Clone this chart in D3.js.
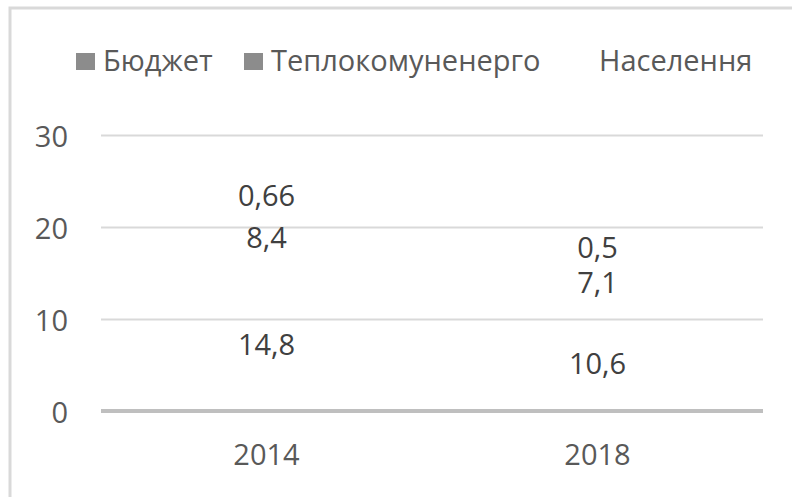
<!DOCTYPE html>
<html>
<head>
<meta charset="utf-8">
<script src="https://cdn.jsdelivr.net/npm/d3@7"></script>
<style>
  body { margin: 0; background: #fff; }
  svg { display: block; font-family: "Open Sans", sans-serif; }
</style>
</head>
<body>
<svg width="792" height="497"></svg>
<script>
// Data
let years = ['2014', '2018']
let series = ['Бюджет', 'Теплокомуненерго', 'Населення']
let budget = [14.8, 10.6]
let teplo = [8.4, 7.1]
let people = [0.66, 0.5]
let yTicks = [0, 10, 20, 30]
let swatchColors = ['#8c8c8c', '#8c8c8c', '#ffffff']

let rows = years.map((y, i) => ({ year: y, 'Бюджет': budget[i], 'Теплокомуненерго': teplo[i], 'Населення': people[i] }))
let stacked = d3.stack().keys(series)(rows)

let width = 792
let height = 497
let fontSize = 29
let plot = { left: 101, right: 763, top: 135, bottom: 411 }

let svg = d3.select('svg')

// Chart border (top and left visible)
svg.append('path')
    .attr('d', `M10,${height + 5} L10,8 L${width + 5},8`)
    .attr('fill', 'none')
    .attr('stroke', '#d9d9d9')
    .attr('stroke-width', 3)

// Scales
let scale = {
    x: d3.scaleBand().domain(years).range([plot.left, plot.right]).paddingInner(0.5).paddingOuter(0.25),
    y: d3.scaleLinear().domain([0, 30]).range([plot.bottom, plot.top])
}

// Grid
svg.append('g')
    .attr('transform', `translate(${plot.left},0)`)
    .call(d3.axisLeft(scale.y).tickValues(yTicks.slice(1)).tickFormat('').tickSize(-(plot.right - plot.left)))
    .call(g => g.select('.domain').remove())
    .selectAll('line')
    .attr('stroke', '#d9d9d9')
    .attr('stroke-width', 2)

// Y tick labels
svg.append('g')
    .selectAll('text')
    .data(yTicks)
    .enter()
    .append('text')
    .attr('x', 68)
    .attr('y', d => scale.y(d))
    .attr('dy', '0.4em')
    .attr('text-anchor', 'end')
    .attr('fill', '#595959')
    .attr('font-size', fontSize)
    .text(d => d)

// Bars (no fill, as in the reference)
svg.append('g')
    .selectAll('g')
    .data(stacked)
    .enter()
    .append('g')
    .selectAll('rect')
    .data(d => d)
    .enter()
    .append('rect')
    .attr('x', d => scale.x(d.data.year))
    .attr('y', d => scale.y(d[1]))
    .attr('width', scale.x.bandwidth())
    .attr('height', d => scale.y(d[0]) - scale.y(d[1]))
    .attr('fill', 'none')

// Value labels
svg.append('g')
    .selectAll('g')
    .data(stacked)
    .enter()
    .append('g')
    .selectAll('text')
    .data(d => d.map(v => ({ v: v, key: d.key })))
    .enter()
    .append('text')
    .attr('x', d => scale.x(d.v.data.year) + scale.x.bandwidth() / 2)
    .attr('y', d => scale.y((d.v[0] + d.v[1]) / 2))
    .attr('dy', '0.41em')
    .attr('text-anchor', 'middle')
    .attr('fill', '#404040')
    .attr('font-size', fontSize)
    .text(d => String(d.v.data[d.key]).replace('.', ','))

// X axis line
svg.append('line')
    .attr('x1', plot.left)
    .attr('x2', plot.right)
    .attr('y1', scale.y(0))
    .attr('y2', scale.y(0))
    .attr('stroke', '#bfbfbf')
    .attr('stroke-width', 4)

// X labels
svg.append('g')
    .selectAll('text')
    .data(years)
    .enter()
    .append('text')
    .attr('x', d => scale.x(d) + scale.x.bandwidth() / 2)
    .attr('y', 455)
    .attr('dy', '0.36em')
    .attr('text-anchor', 'middle')
    .attr('fill', '#595959')
    .attr('font-size', fontSize)
    .text(d => d)

// Legend
let legendX = [76, 244, 572]
let legend = svg.append('g')
    .selectAll('g')
    .data(series)
    .enter()
    .append('g')
    .attr('transform', (d, i) => `translate(${legendX[i]},53)`)
legend.append('rect')
    .attr('width', 19)
    .attr('height', 17)
    .attr('fill', (d, i) => swatchColors[i])
legend.append('text')
    .attr('x', 27)
    .attr('y', 8)
    .attr('dy', '0.36em')
    .attr('fill', '#595959')
    .attr('font-size', fontSize)
    .text(d => d)
</script>
</body>
</html>
